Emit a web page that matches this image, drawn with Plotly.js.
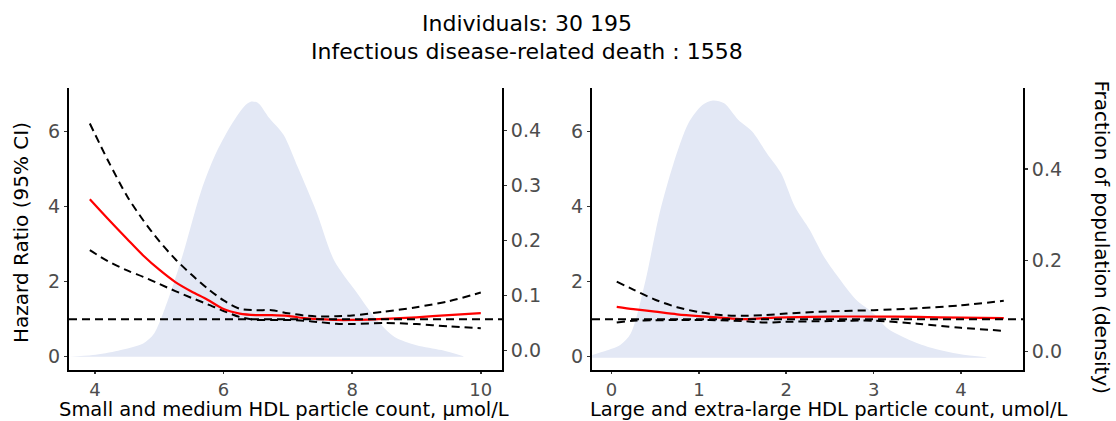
<!DOCTYPE html>
<html>
<head>
<meta charset="utf-8">
<script src="https://cdn.plot.ly/plotly-3.0.1.min.js"></script>
<style>html,body{margin:0;padding:0;background:#fff;}#chart{width:1116px;height:421px;}</style>
</head>
<body>
<div id="chart"></div>
<script>
// ---------- Data ----------
const titleLines = ['Individuals: 30 195', 'Infectious disease-related death : 1558'];
const leftXTitle = 'Small and medium HDL particle count, \u00b5mol/L';
const rightXTitle = 'Large and extra-large HDL particle count, umol/L';
const hrTitle = 'Hazard Ratio (95% CI)';
const densTitle = 'Fraction of population (density)';
const REF_HR = 1;

// Left panel: small & medium HDL particle count
const smX     = [3.92, 4.2, 4.5, 4.75, 5.0, 5.25, 5.5, 5.75, 6.0, 6.25, 6.5, 6.75, 7.0, 7.25, 7.5, 7.75, 8.0, 8.5, 9.0, 9.5, 10.0];
const smHR    = [4.20, 3.68, 3.14, 2.70, 2.32, 1.99, 1.74, 1.52, 1.27, 1.15, 1.11, 1.11, 1.09, 1.03, 1.00, 0.98, 0.98, 1.01, 1.05, 1.11, 1.16];
const smUpper = [6.22, 5.24, 4.28, 3.64, 3.08, 2.60, 2.19, 1.82, 1.50, 1.28, 1.24, 1.24, 1.16, 1.10, 1.07, 1.08, 1.10, 1.20, 1.32, 1.48, 1.71];
const smLower = [2.84, 2.55, 2.30, 2.13, 1.94, 1.75, 1.57, 1.40, 1.22, 1.06, 0.98, 0.98, 0.98, 0.96, 0.92, 0.88, 0.87, 0.90, 0.87, 0.81, 0.76];
const smDensX = [3.61, 3.97, 4.36, 4.75, 4.92, 5.15, 5.37, 5.65, 5.87, 6.09, 6.32, 6.43, 6.54, 6.71, 6.93, 7.16, 7.44, 7.72, 8.05, 8.39, 8.66, 9.0, 9.39, 9.73];
const smDens  = [0.000, 0.003, 0.011, 0.024, 0.042, 0.108, 0.187, 0.301, 0.367, 0.416, 0.455, 0.464, 0.461, 0.434, 0.404, 0.343, 0.265, 0.175, 0.120, 0.066, 0.036, 0.021, 0.012, 0.001];

// Right panel: large & extra-large HDL particle count
const lgX     = [0.06, 0.25, 0.5, 0.75, 1.0, 1.25, 1.5, 1.75, 2.0, 2.5, 3.0, 3.5, 4.0, 4.49];
const lgHR    = [1.33, 1.27, 1.20, 1.13, 1.08, 1.04, 1.00, 1.03, 1.05, 1.07, 1.07, 1.06, 1.04, 1.03];
const lgUpper = [2.00, 1.79, 1.52, 1.32, 1.19, 1.11, 1.09, 1.11, 1.15, 1.21, 1.24, 1.29, 1.37, 1.49];
const lgLower = [0.91, 0.96, 0.97, 0.98, 0.98, 0.97, 0.95, 0.91, 0.93, 0.95, 0.96, 0.88, 0.77, 0.69];
const lgDensX = [-0.22, -0.10, 0.10, 0.22, 0.39, 0.55, 0.71, 0.88, 1.04, 1.16, 1.29, 1.45, 1.61, 1.78, 1.94, 2.10, 2.27, 2.43, 2.59, 2.80, 3.00, 3.16, 3.41, 3.69, 3.98, 4.29];
const lgDens  = [0.006, 0.013, 0.028, 0.053, 0.170, 0.317, 0.426, 0.514, 0.554, 0.564, 0.558, 0.522, 0.496, 0.448, 0.405, 0.331, 0.280, 0.222, 0.178, 0.127, 0.097, 0.064, 0.039, 0.020, 0.008, 0.001];

// ---------- Styles ----------
const W = 1116, H = 421;
const FONT = 'DejaVu Sans, Liberation Sans, Arial, sans-serif';
const TICKCOL = '#4d4d4d';
const DENSCOL = '#e3e8f5';
const DASH = '8px,5px';
const px = v => v / W;
const py = v => 1 - v / H;

function densTrace(x, y, xa, ya) {
  return {x: x, y: y, xaxis: xa, yaxis: ya, type: 'scatter', mode: 'lines',
    line: {width: 0, shape: 'spline', smoothing: 0.8, color: DENSCOL}, fill: 'tozeroy', fillcolor: DENSCOL,
    hoverinfo: 'skip', showlegend: false};
}
function ciTrace(x, y, xa, ya) {
  return {x: x, y: y, xaxis: xa, yaxis: ya, type: 'scatter', mode: 'lines',
    line: {width: 2, color: '#000', dash: DASH, shape: 'spline', smoothing: 0.8}, showlegend: false};
}
function hrTrace(x, y, xa, ya) {
  return {x: x, y: y, xaxis: xa, yaxis: ya, type: 'scatter', mode: 'lines',
    line: {width: 2.2, color: '#ff0000', shape: 'spline', smoothing: 0.8}, showlegend: false};
}
function dummy(xa, ya) {
  return {x: [null], y: [null], xaxis: xa, yaxis: ya, type: 'scatter', mode: 'lines', showlegend: false, hoverinfo: 'skip'};
}

const data = [
  densTrace(smDensX, smDens, 'x', 'y'),
  ciTrace(smX, smUpper, 'x', 'y2'),
  ciTrace(smX, smLower, 'x', 'y2'),
  hrTrace(smX, smHR, 'x', 'y2'),
  dummy('x', 'y3'),
  densTrace(lgDensX, lgDens, 'x2', 'y4'),
  ciTrace(lgX, lgUpper, 'x2', 'y5'),
  ciTrace(lgX, lgLower, 'x2', 'y5'),
  hrTrace(lgX, lgHR, 'x2', 'y5'),
  dummy('x2', 'y6')
];

const tickStyle = {
  showgrid: false, zeroline: false, showline: true, linewidth: 2, linecolor: '#000',
  ticks: 'outside', ticklen: 3, tickwidth: 1.5, tickcolor: '#333',
  tickfont: {family: FONT, size: 19, color: TICKCOL}
};
const xTickFont = {family: FONT, size: 18, color: TICKCOL};
const yDom = [py(370), py(87.5)];

const layout = {
  width: W, height: H,
  margin: {l: 0, r: 0, t: 0, b: 0, pad: 0},
  paper_bgcolor: '#fff', plot_bgcolor: 'rgba(0,0,0,0)',
  showlegend: false,
  font: {family: FONT, color: '#000'},
  xaxis: Object.assign({}, tickStyle, {domain: [px(69), px(502)], range: [3.596, 10.33], anchor: 'y', dtick: 2, tick0: 0, ticklen: 2, tickfont: xTickFont}),
  yaxis: {domain: yDom, range: [-0.0242, 0.4895], visible: false, fixedrange: true},
  yaxis2: Object.assign({}, tickStyle, {overlaying: 'y', side: 'left', anchor: 'x', range: [-0.355, 7.18], dtick: 2, tick0: 0}),
  yaxis3: Object.assign({}, tickStyle, {overlaying: 'y', side: 'right', anchor: 'x', range: [-0.0355, 0.478], dtick: 0.1, tick0: 0, tickformat: '.1f'}),
  xaxis2: Object.assign({}, tickStyle, {domain: [px(592), px(1023)], range: [-0.223, 4.71], anchor: 'y4', dtick: 1, tick0: 0, ticklen: 2, tickfont: xTickFont}),
  yaxis4: {domain: yDom, anchor: 'x2', range: [-0.027, 0.5925], visible: false},
  yaxis5: Object.assign({}, tickStyle, {overlaying: 'y4', side: 'left', anchor: 'x2', range: [-0.355, 7.18], dtick: 2, tick0: 0}),
  yaxis6: Object.assign({}, tickStyle, {overlaying: 'y4', side: 'right', anchor: 'x2', range: [-0.0401, 0.579], dtick: 0.2, tick0: 0, tickformat: '.1f'}),
  shapes: [
    {type: 'line', xref: 'x domain', x0: 0, x1: 1, yref: 'y2', y0: REF_HR, y1: REF_HR, line: {color: '#000', width: 2, dash: DASH}},
    {type: 'line', xref: 'x2 domain', x0: 0, x1: 1, yref: 'y5', y0: REF_HR, y1: REF_HR, line: {color: '#000', width: 2, dash: DASH}}
  ],
  annotations: [
    {text: titleLines[0], x: px(527), y: py(24), xref: 'paper', yref: 'paper', showarrow: false, xanchor: 'center', yanchor: 'middle', font: {family: FONT, size: 22, color: '#000'}},
    {text: titleLines[1], x: px(527), y: py(52), xref: 'paper', yref: 'paper', showarrow: false, xanchor: 'center', yanchor: 'middle', font: {family: FONT, size: 22, color: '#000'}},
    {text: leftXTitle, x: px(283.5), y: py(409.5), xref: 'paper', yref: 'paper', showarrow: false, xanchor: 'center', yanchor: 'middle', font: {family: FONT, size: 19.5, color: '#000'}},
    {text: rightXTitle, x: px(829), y: py(409.5), xref: 'paper', yref: 'paper', showarrow: false, xanchor: 'center', yanchor: 'middle', font: {family: FONT, size: 19.5, color: '#000'}},
    {text: hrTitle, x: px(21.5), y: py(232.5), xref: 'paper', yref: 'paper', showarrow: false, textangle: -90, xanchor: 'center', yanchor: 'middle', font: {family: FONT, size: 20, color: '#000'}},
    {text: densTitle, x: px(1102), y: py(237.5), xref: 'paper', yref: 'paper', showarrow: false, textangle: 90, xanchor: 'center', yanchor: 'middle', font: {family: FONT, size: 20, color: '#000'}}
  ]
};

Plotly.newPlot('chart', data, layout, {staticPlot: true, displayModeBar: false});
</script>
</body>
</html>
